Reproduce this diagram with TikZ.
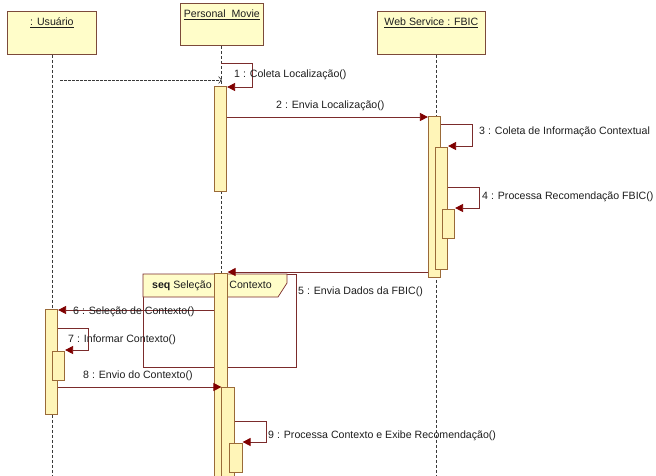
\documentclass[tikz,border=0pt]{standalone}
\usepackage{fontspec}
\setmainfont{Liberation Sans}
\usetikzlibrary{positioning,arrows.meta,calc}
\definecolor{boxfill}{HTML}{FFFDC9}
\definecolor{boxline}{HTML}{7C4A3A}
\definecolor{barfill}{HTML}{FFF5B8}
\definecolor{barline}{HTML}{9A6A38}
\definecolor{msgline}{HTML}{7B2B2B}
\definecolor{tip}{HTML}{800000}
\definecolor{life}{HTML}{3A3A3A}
\definecolor{ink}{HTML}{1E1E1E}
\tikzset{
  objbox/.style={draw=boxline, line width=0.8pt, fill=boxfill, inner sep=0pt,
    anchor=north west, text=ink},
  bar/.style={draw=barline, line width=0.7pt, fill=barfill, inner sep=0pt,
    minimum width=12.5pt, anchor=north},
  lifeline/.style={draw=life, line width=0.7pt, dash pattern=on 3pt off 2pt},
  msg/.style={-{Triangle[length=8pt,width=8pt,color=tip]}, draw=msgline, line width=0.8pt},
  ret/.style={-{Straight Barb[length=3pt,width=7pt]}, draw=life, line width=0.6pt,
    dash pattern=on 2.5pt off 1.5pt},
  frm/.style={draw=msgline, line width=0.7pt},
  lab/.style={font=\fontsize{10.6pt}{12pt}\selectfont, text=ink, anchor=west, inner sep=0pt},
}

\begin{document}
\begin{tikzpicture}[x=1pt, y=-1pt, font=\fontsize{10.6pt}{12pt}\selectfont]
  \useasboundingbox (0,0) rectangle (656,475);
  \fill[white] (0,0) rectangle (656,475);

  % objetos
  \node[objbox, minimum width=89pt, minimum height=43pt] (usr) at (7,11) {};
  \node[objbox, minimum width=83pt, minimum height=42pt] (pm) at (180,3) {};
  \node[objbox, minimum width=108pt, minimum height=43pt] (ws) at (377,11) {};
  \node[lab, anchor=center] at (usr.center |- 0,23) {\underline{: Usuário}};
  \node[lab, anchor=center] at (pm.center |- 0,15) {\underline{Personal\ \ Movie}};
  \node[lab, anchor=center] at (ws.center |- 0,23) {\underline{Web Service : FBIC}};

  % linhas de vida
  \coordinate (usrend) at (52,480);
  \coordinate (pmend) at (221,480);
  \coordinate (wsend) at (436,480);
  \draw[lifeline] (usr.south -| usrend) -- (usrend);
  \draw[lifeline] (pm.south -| pmend) -- (pmend);
  \draw[lifeline] (ws.south -| wsend) -- (wsend);

  % fragmento seq
  \node[frm, minimum width=153pt, minimum height=93pt,
    inner sep=0pt, anchor=north west] (seqf) at (143,274) {};
  \draw[frm, fill=boxfill] (seqf.north west) -- ++(144,0) -- ++(0,9) -- ++(-9,14)
    -- (seqf.north west |- 0,297) -- cycle;
  \node[lab] (seqlab) at (152,286) {\textbf{seq} Seleção do Contexto};

  % ativações
  \node[bar, minimum height=105pt] (pm1) at (220.5,86) {};
  \node[bar, minimum height=210pt] (pm2) at (221,273) {};
  \node[bar, minimum height=95pt] (pm3) at (228,387) {};
  \node[bar, minimum height=29pt] (pm4) at (236,443) {};
  \node[bar, minimum height=161pt] (ws1) at (434.5,116) {};
  \node[bar, minimum height=122pt] (ws2) at (441.5,147) {};
  \node[bar, minimum height=29pt] (ws3) at (448.5,209) {};
  \node[bar, minimum height=105pt] (u1) at (51.5,309) {};
  \node[bar, minimum height=29pt] (u2) at (58.5,351) {};

  % mensagens
  \coordinate (u0) at (60,80);
  \coordinate (m1s) at (221,63);
  \draw[ret] (u0) -- (u0 -| pm.south);
  \draw[msg] (m1s) -- (252,63) -- (252,87) -- (pm1.north east |- 0,87);
  \node[lab] (l1) at (234,75) {1 : Coleta Localização()};

  \draw[msg] (pm1.north east |- 0,117) -- (ws1.north west |- 0,117);
  \node[lab] (l2) at (276,106) {2 : Envia Localização()};

  \draw[msg] (ws1.north east |- 0,124) -- (472,124) -- (472,146) -- (ws2.north east |- 0,146);
  \node[lab] (l3) at (479,132) {3 : Coleta de Informação Contextual};

  \draw[msg] (ws2.north east |- 0,187) -- (479,187) -- (479,208) -- (ws3.north east |- 0,208);
  \node[lab] (l4) at (482,197) {4 : Processa Recomendação FBIC()};

  \draw[msg] (ws1.north west |- 0,272) -- (pm2.north east |- 0,272);
  \node[lab] (l5) at (298,292) {5 : Envia Dados da FBIC()};

  \draw[msg] (pm2.north west |- 0,310) -- (u1.north east |- 0,310);
  \node[lab] (l6) at (73,312) {6 : Seleção de Contexto()};

  \draw[msg] (u1.north east |- 0,328) -- (88,328) -- (88,350) -- (u2.north east |- 0,350);
  \node[lab] (l7) at (68,340) {7 : Informar Contexto()};

  \draw[msg] (u1.north east |- 0,387) -- (pm3.north west |- 0,387);
  \node[lab] (l8) at (83,376) {8 : Envio do Contexto()};

  \draw[msg] (pm3.north east |- 0,421) -- (266,421) -- (266,442) -- (pm4.north east |- 0,442);
  \node[lab] (l9) at (268,436) {9 : Processa Contexto e Exibe Recomendação()};
\end{tikzpicture}
\end{document}
